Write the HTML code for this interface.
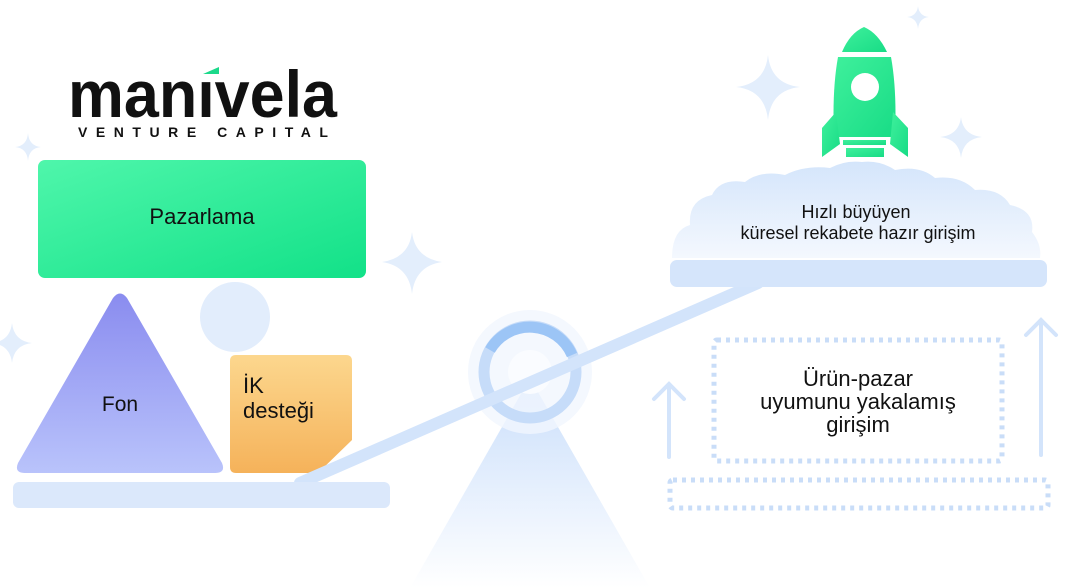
<!DOCTYPE html>
<html><head><meta charset="utf-8"><style>
html,body{margin:0;padding:0;background:#fff;width:1076px;height:588px;overflow:hidden}
svg{display:block}
text{font-family:"Liberation Sans",sans-serif}
</style></head><body>
<svg width="1076" height="588" viewBox="0 0 1076 588" xmlns="http://www.w3.org/2000/svg">
<defs>
<linearGradient id="gG" x1="0" y1="0" x2="1" y2="1"><stop offset="0" stop-color="#4ff6ab"/><stop offset="1" stop-color="#12e188"/></linearGradient>
<linearGradient id="gP" x1="0" y1="0" x2="0" y2="1"><stop offset="0" stop-color="#8a8cef"/><stop offset="1" stop-color="#b9c3fb"/></linearGradient>
<linearGradient id="gO" x1="0" y1="0" x2="0" y2="1"><stop offset="0" stop-color="#fcd78e"/><stop offset="1" stop-color="#f5b25a"/></linearGradient>
<linearGradient id="gPy" x1="0" y1="0" x2="0" y2="1"><stop offset="0" stop-color="#c9defb"/><stop offset="1" stop-color="#ffffff"/></linearGradient>
<linearGradient id="gC" x1="0" y1="0" x2="0" y2="1"><stop offset="0" stop-color="#d4e5fb"/><stop offset="1" stop-color="#f4f8fe"/></linearGradient>
<linearGradient id="gR" x1="0" y1="0" x2="1" y2="1"><stop offset="0" stop-color="#3ff09c"/><stop offset="1" stop-color="#18dc86"/></linearGradient>
</defs>
<g fill="#e3eefc">
<path d="M412 232 Q415 258 442 262 Q415 266 412 294 Q409 266 382 262 Q409 258 412 232Z"/>
<path d="M768 55 Q771 84 800 87 Q771 90 768 120 Q765 90 736 87 Q765 84 768 55Z"/>
<path d="M961 117 Q963 135 982 137 Q963 139 961 158 Q959 139 940 137 Q959 135 961 117Z"/>
<path d="M918 6 Q919 16 929 17 Q919 18 918 29 Q917 18 907 17 Q917 16 918 6Z"/>
<path d="M28 133 Q29 146 41 147 Q29 148 28 161 Q27 148 15 147 Q27 146 28 133Z"/>
<path d="M12 323 Q14 341 32 343 Q14 345 12 363 Q10 345 -8 343 Q10 341 12 323Z"/>
</g>
<text x="68" y="117" font-size="66" font-weight="bold" fill="#111" textLength="269" lengthAdjust="spacingAndGlyphs">manıvela</text>
<path d="M203 74 L219 67 L219 74Z" fill="#1bd98a"/>
<text x="78" y="137" font-size="14" font-weight="bold" fill="#111" textLength="250" lengthAdjust="spacing">VENTURE CAPITAL</text>
<rect x="38" y="160" width="328" height="118" rx="7" fill="url(#gG)"/>
<text x="202" y="224" font-size="22" text-anchor="middle" fill="#111">Pazarlama</text>
<circle cx="235" cy="317" r="35" fill="#e2edfc"/>
<path d="M113 298 Q120 289 127 298 L222 463 Q226 473 215 473 L25 473 Q14 473 18 463Z" fill="url(#gP)"/>
<text x="120" y="411" font-size="21" text-anchor="middle" fill="#111">Fon</text>
<path d="M236 355 L346 355 Q352 355 352 361 L352 440 L318 473 L236 473 Q230 473 230 467 L230 361 Q230 355 236 355Z" fill="url(#gO)"/>
<text x="243" y="393" font-size="22" fill="#111">İK</text>
<text x="243" y="418" font-size="22" fill="#111">desteği</text>
<path d="M410 588 L530 378 L650 588Z" fill="url(#gPy)"/>
<circle cx="530" cy="372" r="62" fill="#f1f6fe" opacity="0.8"/>
<circle cx="530" cy="372" r="46" fill="none" stroke="#c6dcf9" stroke-width="11"/>
<path d="M490 350 A46 46 0 0 1 572 355" fill="none" stroke="#9cc5f6" stroke-width="11"/>
<circle cx="530" cy="372" r="22" fill="#fafcff"/>
<line x1="300" y1="483" x2="758" y2="283" stroke="#d3e4fb" stroke-width="12" stroke-linecap="round"/>
<rect x="13" y="482" width="377" height="26" rx="6" fill="#dbe8fb"/>
<path d="M672 258 Q672 230 690 225 Q688 200 712 195 Q720 178 745 182 Q760 170 785 175 Q805 165 830 168 Q845 160 862 162 Q880 160 895 170 Q920 165 935 178 Q960 175 975 190 Q1000 188 1010 205 Q1035 210 1032 232 Q1042 245 1040 258Z" fill="url(#gC)"/>
<rect x="670" y="260" width="377" height="27" rx="7" fill="#d5e5fb"/>
<text x="856" y="218" font-size="18" text-anchor="middle" fill="#111">Hızlı büyüyen</text>
<text x="858" y="239" font-size="18" text-anchor="middle" fill="#111">küresel rekabete hazır girişim</text>
<g fill="url(#gR)">
<path d="M842 52 Q850 33 864 27 Q878 33 887 52Z"/>
<path d="M838 57 L891 57 Q897 90 895 137 L834 137 Q832 90 838 57Z"/>
<path d="M836 112 L822 128 L822 157 L840 144Z"/>
<path d="M893 112 L908 128 L908 157 L890 144Z"/>
<rect x="843" y="140" width="43" height="5"/>
<rect x="846" y="148" width="38" height="9"/>
</g>
<circle cx="865" cy="87" r="14" fill="#fff"/>
<g fill="none" stroke="#c9ddf8" stroke-width="5" stroke-dasharray="4 5">
<rect x="714" y="340" width="288" height="121" rx="3"/>
<rect x="670" y="480" width="378" height="28" rx="3"/>
</g>
<text x="858" y="386" font-size="22" text-anchor="middle" fill="#111">Ürün-pazar</text>
<text x="858" y="409" font-size="22" text-anchor="middle" fill="#111">uyumunu yakalamış</text>
<text x="858" y="432" font-size="22" text-anchor="middle" fill="#111">girişim</text>
<g fill="none" stroke="#d3e4fb" stroke-width="4" stroke-linecap="round">
<path d="M669 457 L669 384 M654 399 L669 384 L684 399"/>
<path d="M1041 455 L1041 320 M1026 335 L1041 320 L1056 335"/>
</g>
</svg>
</body></html>
